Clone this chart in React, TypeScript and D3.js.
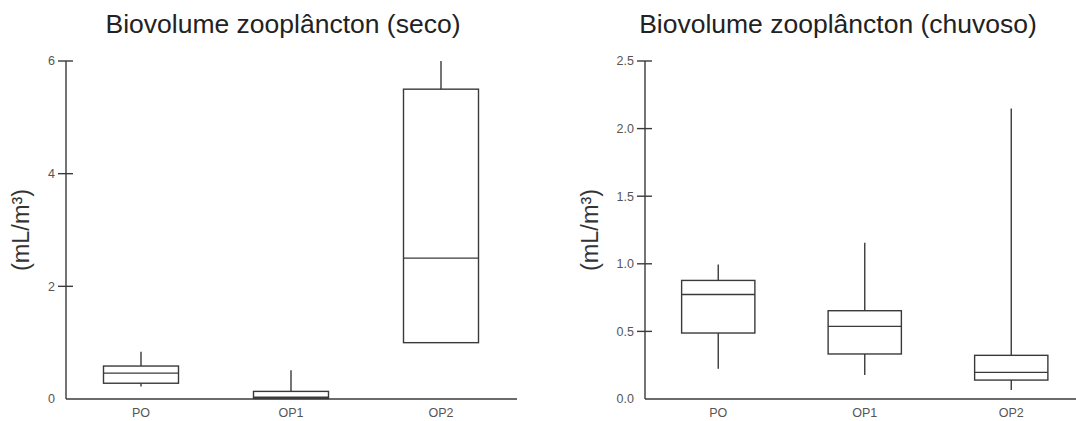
import React from "react";
import * as d3 from "d3";

const categories = ["PO", "OP1", "OP2"];

// seco (dry season): [whiskerLow, q1, median, q3, whiskerHigh]
const secoLow = [0.22, 0.0, 1.0];
const secoQ1 = [0.28, 0.01, 1.0];
const secoMedian = [0.46, 0.03, 2.5];
const secoQ3 = [0.585, 0.135, 5.5];
const secoHigh = [0.84, 0.51, 6.0];
const secoTicks = [0, 2, 4, 6];

// chuvoso (rainy season)
const chuvLow = [0.224, 0.177, 0.066];
const chuvQ1 = [0.488, 0.333, 0.14];
const chuvMedian = [0.773, 0.537, 0.197];
const chuvQ3 = [0.877, 0.653, 0.323];
const chuvHigh = [0.995, 1.155, 2.148];
const chuvTicks = [0, 0.5, 1.0, 1.5, 2.0, 2.5];

const titleSeco = "Biovolume zooplâncton (seco)";
const titleChuv = "Biovolume zooplâncton (chuvoso)";
const yLabel = "(mL/m³)";

const LINE = "#3a3a3a";
const TEXT = "#555";
const FONT = "'Liberation Sans', Arial, sans-serif";

type PanelProps = {
  title: string;
  titleX: number;
  labelX: number;
  label: string;
  x0: number;
  x1: number;
  axisEnd: number;
  yMax: number;
  ticks: number[];
  fmt: (v: number) => string;
  low: number[];
  q1: number[];
  med: number[];
  q3: number[];
  high: number[];
};

function Panel(p: PanelProps) {
  const yTop = 61;
  const yBottom = 399;
  const x = d3.scaleBand<string>().domain(categories).range([p.x0, p.x1]).paddingInner(0.5).paddingOuter(0.25);
  const y = d3.scaleLinear().domain([0, p.yMax]).range([yBottom, yTop]);
  const bw = x.bandwidth();
  return (
    <g>
      <text x={p.titleX} y={33} textAnchor="middle" fontFamily={FONT} fontSize={26.5} fill="#222">
        {p.title}
      </text>
      <text
        transform={`translate(${p.labelX},${(yTop + yBottom) / 2}) rotate(-90)`}
        textAnchor="middle"
        fontFamily={FONT}
        fontSize={23.5}
        fill="#333"
      >
        {p.label}
      </text>
      {/* y axis */}
      <line x1={p.x0} x2={p.x0} y1={y(p.yMax)} y2={yBottom} stroke={LINE} strokeWidth={1.4} />
      {p.ticks.map((t) => (
        <g key={t}>
          {t !== 0 && (
            <line x1={p.x0 - 8} x2={p.x0 + 7} y1={y(t)} y2={y(t)} stroke={LINE} strokeWidth={1.4} />
          )}
          <text
            x={p.x0 - 11}
            y={y(t)}
            dy="0.35em"
            textAnchor="end"
            fontFamily={FONT}
            fontSize={12.5}
            fill={TEXT}
          >
            {p.fmt(t)}
          </text>
        </g>
      ))}
      {/* x axis */}
      <line x1={p.x0} x2={p.axisEnd} y1={yBottom} y2={yBottom} stroke={LINE} strokeWidth={1.4} />
      {categories.map((c, i) => {
        const cx = (x(c) as number) + bw / 2;
        const left = x(c) as number;
        return (
          <g key={c}>
            <line x1={cx} x2={cx} y1={y(p.high[i])} y2={y(p.q3[i])} stroke={LINE} strokeWidth={1.4} />
            <line x1={cx} x2={cx} y1={y(p.q1[i])} y2={y(p.low[i])} stroke={LINE} strokeWidth={1.4} />
            <rect
              x={left}
              y={y(p.q3[i])}
              width={bw}
              height={y(p.q1[i]) - y(p.q3[i])}
              fill="none"
              stroke={LINE}
              strokeWidth={1.4}
            />
            <line x1={left} x2={left + bw} y1={y(p.med[i])} y2={y(p.med[i])} stroke={LINE} strokeWidth={1.4} />
            <text x={cx} y={417} textAnchor="middle" fontFamily={FONT} fontSize={12.5} fill={TEXT}>
              {c}
            </text>
          </g>
        );
      })}
    </g>
  );
}

export default function App() {
  return (
    <svg
      width={1076}
      height={421}
      style={{ position: "fixed", left: 0, top: 0, background: "#fff" }}
    >
      <rect width={1076} height={421} fill="#fff" />
      <Panel
        title={titleSeco}
        titleX={283}
        labelX={29}
        label={yLabel}
        x0={66}
        x1={516}
        axisEnd={517}
        yMax={6}
        ticks={secoTicks}
        fmt={(v) => d3.format("d")(v)}
        low={secoLow}
        q1={secoQ1}
        med={secoMedian}
        q3={secoQ3}
        high={secoHigh}
      />
      <Panel
        title={titleChuv}
        titleX={838}
        labelX={598}
        label={yLabel}
        x0={645}
        x1={1084.5}
        axisEnd={1076}
        yMax={2.5}
        ticks={chuvTicks}
        fmt={(v) => d3.format(".1f")(v)}
        low={chuvLow}
        q1={chuvQ1}
        med={chuvMedian}
        q3={chuvQ3}
        high={chuvHigh}
      />
    </svg>
  );
}
